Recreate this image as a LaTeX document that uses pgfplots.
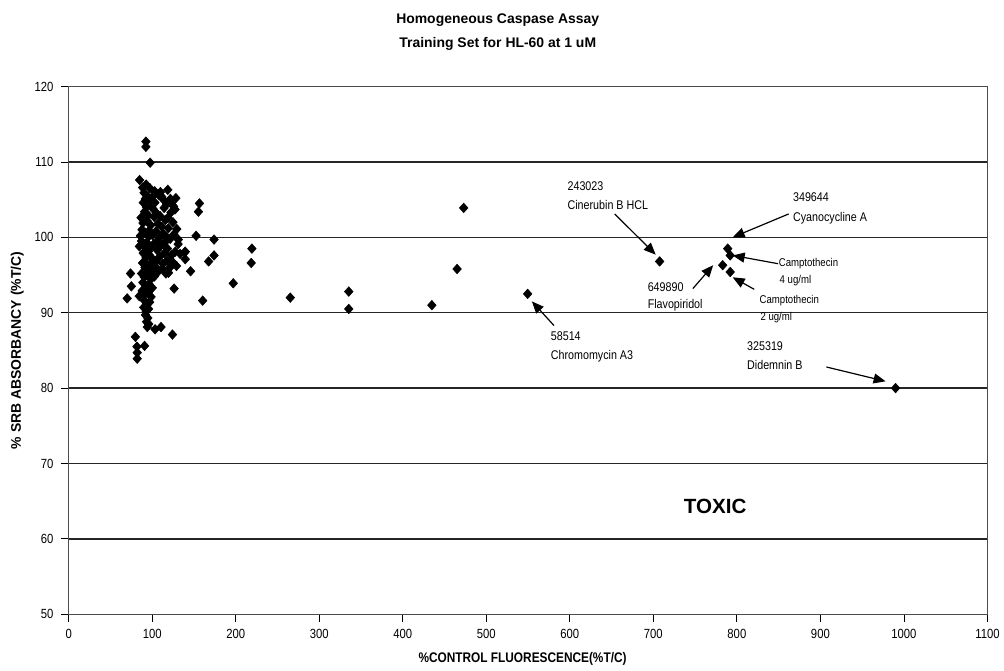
\documentclass[border=0pt]{standalone}
\usepackage{fontspec}
\setmainfont{Liberation Sans}
\newfontfamily\narrowfont[FakeStretch=0.85]{Liberation Sans}
\usepackage{pgfplots}
\usepackage{pgfplotstable}
\pgfplotsset{compat=1.18}
\usetikzlibrary{arrows.meta}

% training set: %control fluorescence vs %SRB absorbancy
\pgfplotstableread{
x y
92.4 112.7
92.4 112.0
97.5 109.9
84.9 107.6
111.2 105.4
123 104.5
88.5 106.6
90.2 105.9
91.7 105.1
94.6 105.4
89.3 104.6
93.1 104.0
96.8 104.9
99.6 105.3
103.2 104.6
107.9 105.6
113.4 105.0
117.1 104.4
121.8 105.1
125.6 104.1
127.3 103.7
90.8 103.4
95.4 102.9
100.7 103.8
105.3 103.2
109.6 102.8
114.2 103.9
118.7 102.6
122.4 103.3
86.6 102.6
88.9 101.9
93.7 102.2
98.2 101.6
102.4 102.7
106.8 101.8
111.5 101.4
115.7 102.3
119.3 101.2
124.8 102.0
129.4 101.1
87.7 101.0
91.6 100.6
96.3 100.9
100.2 100.3
104.6 100.8
108.4 99.9
113.1 100.5
116.8 100.1
121.5 99.8
125.9 100.4
131.2 99.7
87.1 99.5
89.9 98.9
93.5 99.3
97.8 98.6
101.7 99.1
105.9 98.3
110.4 98.9
114.6 97.9
118.2 98.5
122.9 97.6
127.6 98.1
133.4 97.8
89.2 97.9
92.6 97.3
96.1 97.7
100.8 97.1
104.2 96.7
108.7 97.4
112.9 96.5
117.6 96.9
121.1 96.0
125.4 96.6
129.0 96.2
88.4 96.6
91.3 96.0
94.8 96.3
99.3 95.7
103.6 96.1
107.5 95.5
111.8 95.9
119.5 95.3
87.3 95.2
90.6 94.7
94.1 95.0
98.7 94.5
102.5 94.8
88.8 94.0
92.2 93.6
95.9 93.8
100.1 93.3
87.9 92.9
91.4 92.5
95.2 92.7
98.6 92.1
90.7 91.6
93.6 91.2
96.9 91.4
89.8 90.7
92.8 90.2
95.6 90.5
91.9 89.7
94.7 89.3
93.2 88.8
95.8 88.5
94.1 88.1
91.0 99.1
95.6 100.1
99.0 104.1
103.0 106.1
109.8 106.0
92.7 107.0
97.3 106.5
118.6 106.3
114.8 99.3
106.5 99.6
92.1 98.2
95.3 98.1
98.9 96.6
90.2 93.1
97.0 95.4
85.8 100.2
84.6 98.8
128.3 105.2
74 95.2
75 93.5
70 91.9
84.5 92.2
116.4 95.2
126.2 93.2
138.8 98.0
103.4 87.8
110.5 88.1
124.2 87.1
79.8 86.8
81.7 85.5
90.8 85.6
82 84.7
82 83.9
156.5 104.5
155.3 103.4
152.5 100.2
174 99.7
131 99.1
139.5 98.1
139.5 97.1
174 97.6
167.5 96.8
145.9 95.5
219.3 98.5
218.5 96.6
197 93.9
160.4 91.6
265.3 92.0
335.3 92.8
335.3 90.5
434.8 91.0
465 95.8
472.9 103.9
549.5 92.5
707.5 96.8
789 98.5
792 97.6
783 96.3
792 95.4
990 80.0
}\trainset

\begin{document}
\begin{tikzpicture}
\begin{axis}[
  scale only axis,
  width=692pt, height=397.5pt,
  xmin=0, xmax=1100, ymin=50, ymax=120,
  xtick={0,100,...,1100}, ytick={50,60,...,120},
  xtick pos=bottom, ytick pos=left,
  axis line style={line width=0.5pt, black!70},
  tick style={black, line width=0.6pt},
  tick align=outside, major tick length=6pt,
  xticklabel style={font=\narrowfont\fontsize{10}{11}\selectfont, yshift=-2pt},
  yticklabel style={font=\narrowfont\fontsize{10}{11}\selectfont, xshift=-2pt},
  /pgf/number format/assume math mode=true,
  /pgf/number format/1000 sep={},
  clip=false,
]
% frame of the picture
\path (rel axis cs:-0.0748,-0.1) rectangle (rel axis cs:1.013,1.164);

% horizontal grid lines
\pgfplotsinvokeforeach{60,70,80,90,100,110}{
  \draw[line width=1.1pt, black!85] (axis cs:0,#1) -- (axis cs:1100,#1);
}

\addplot[only marks, mark=diamond*, mark size=3.6pt, mark options={xscale=1.2}, black] table {\trainset};

% titles and axis labels
\node[font=\bfseries\fontsize{10.5}{12}\selectfont] at (rel axis cs:0.467,1.126) {Homogeneous Caspase Assay};
\node[font=\bfseries\fontsize{10.5}{12}\selectfont] at (rel axis cs:0.467,1.081) {Training Set for HL-60 at 1 uM};
\node[rotate=90, font=\bfseries\fontsize{10.5}{12}\selectfont] at (rel axis cs:-0.056,0.50) {\% SRB ABSORBANCY (\%T/C)};
\node[font=\narrowfont\bfseries\fontsize{10.5}{12}\selectfont] at (rel axis cs:0.494,-0.085) {\%CONTROL FLUORESCENCE(\%T/C)};

% annotations
\begin{scope}[every node/.style={font=\narrowfont\fontsize{9.5}{11}\selectfont, anchor=base west, inner sep=0pt}]
\node at (axis cs:597,106.2) {243023};
\node at (axis cs:597,103.7) {Cinerubin B HCL};
\node at (axis cs:577,86.3) {58514};
\node at (axis cs:577,83.8) {Chromomycin A3};
\node at (axis cs:693,92.8) {649890};
\node at (axis cs:693,90.5) {Flavopiridol};
\node at (axis cs:867,104.7) {349644};
\node at (axis cs:867,102.1) {Cyanocycline A};
\node at (axis cs:812,85.0) {325319};
\node at (axis cs:812,82.5) {Didemnin B};
\end{scope}
\begin{scope}[every node/.style={font=\narrowfont\fontsize{8.5}{10}\selectfont, anchor=base west, inner sep=0pt}]
\node at (axis cs:850,96.1) {Camptothecin};
\node at (axis cs:851,93.9) {4 ug/ml};
\node at (axis cs:827,91.2) {Camptothecin};
\node at (axis cs:828,89.0) {2 ug/ml};
\end{scope}
\node[font=\bfseries\fontsize{15.5}{18}\selectfont] at (axis cs:774,64.3) {TOXIC};

\begin{scope}[line width=0.9pt, -{Triangle[length=9pt,width=7.5pt]}]
\draw (axis cs:653.7,103.1) -- (axis cs:702.8,97.7);
\draw (axis cs:581,88.3) -- (axis cs:554.6,91.5);
\draw (axis cs:747.3,93.2) -- (axis cs:771.6,96.3);
\draw (axis cs:862,103.1) -- (axis cs:795,100.0);
\draw (axis cs:849.4,96.5) -- (axis cs:795,97.6);
\draw (axis cs:820.8,93.1) -- (axis cs:795,94.7);
\draw (axis cs:907.2,82.8) -- (axis cs:978,80.9);
\end{scope}
\end{axis}
\end{tikzpicture}
\end{document}
